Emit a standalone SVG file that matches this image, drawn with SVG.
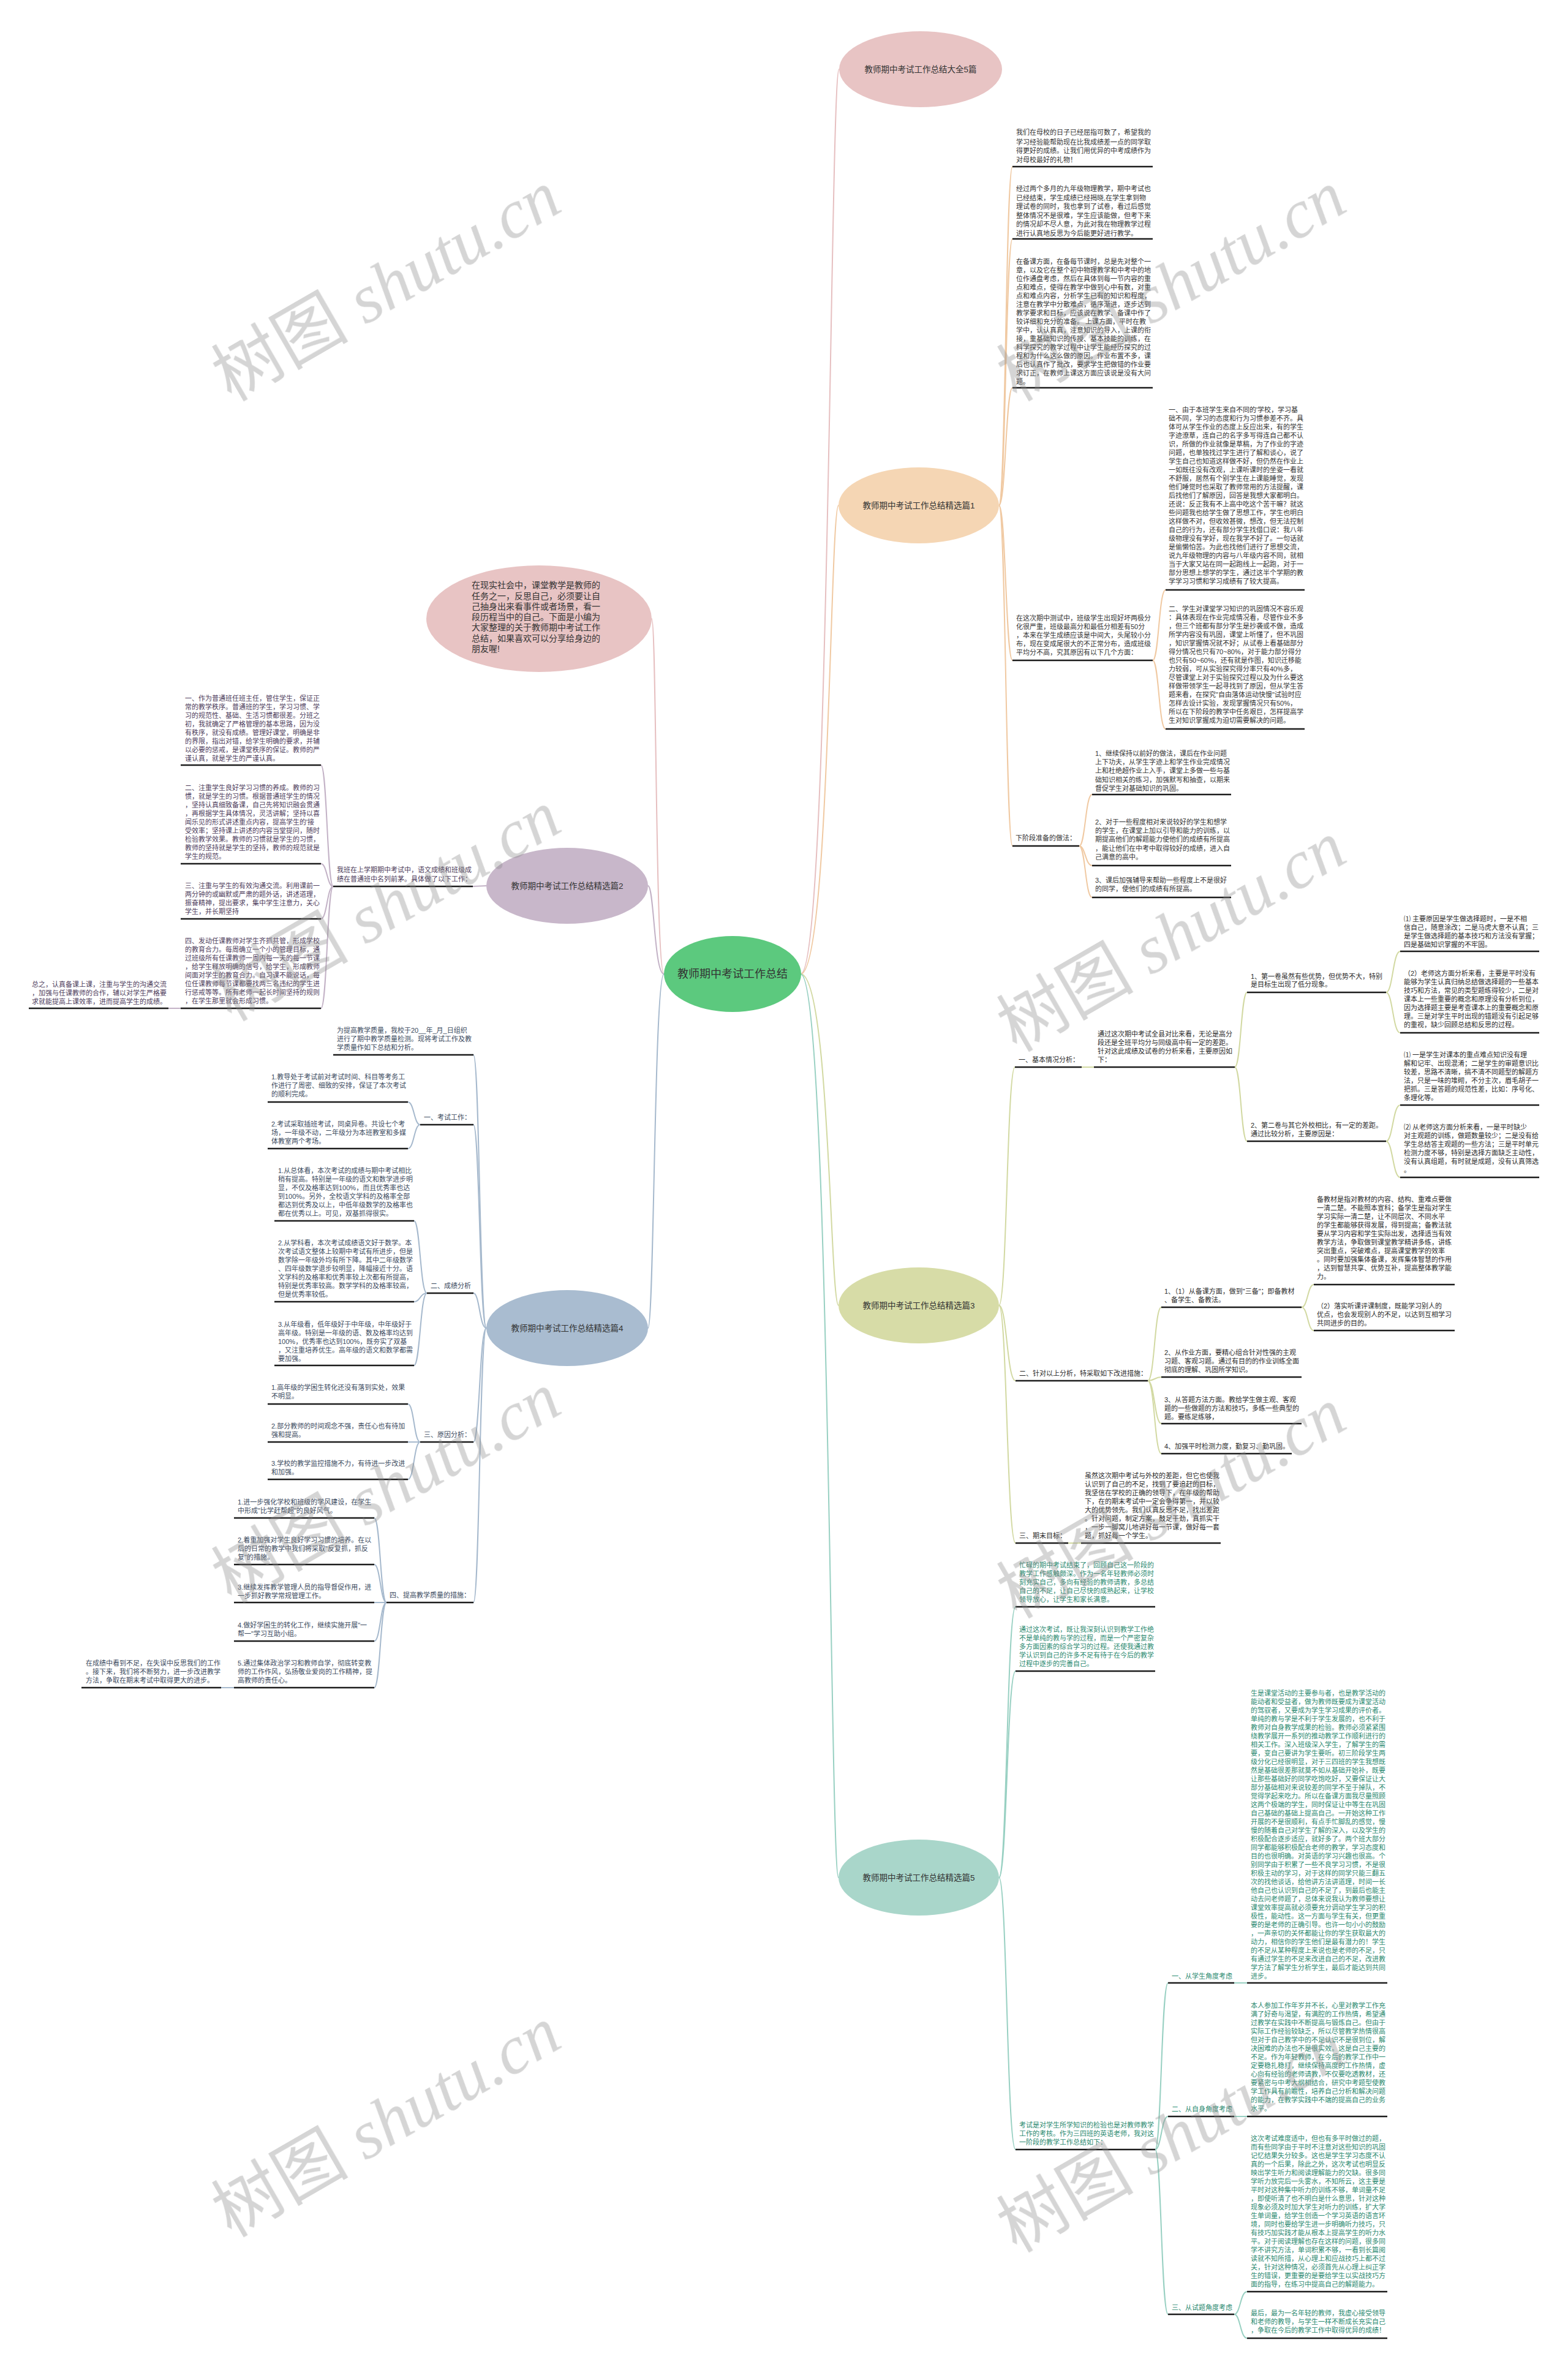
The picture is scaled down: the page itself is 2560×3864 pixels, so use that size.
<svg xmlns="http://www.w3.org/2000/svg" width="2560" height="3864" viewBox="0 0 2560 3864">
<defs>
<style>
.t{font-family:"Liberation Sans","Noto Sans CJK SC",sans-serif;font-size:11px}
.nl{font-family:"Liberation Sans","Noto Sans CJK SC",sans-serif;font-size:13.5px;fill:#333;text-anchor:middle}
.b1{fill:#333}.b2{fill:#4e3d5c}.b3{fill:#2b2b2b}.b4{fill:#3b4a5e}.b5{fill:#2b8a70}
.ul{stroke:#1c1c1c;stroke-width:2.4;fill:none}
.c{fill:none;stroke-width:2}
.cp{stroke:#e6bfc0}.c1{stroke:#f0c9a2}.c2{stroke:#c3b2c6}.c3{stroke:#d2d9a2}.c4{stroke:#a6b9cd}.c5{stroke:#98d0c2}
.wm{font-size:112px;fill:#8a8a8a;opacity:0.36}
</style>
</defs>
<rect width="2560" height="3864" fill="#ffffff"/>

<g id="connectors">
<path class="c cp" d="M1307,1590 C1355,1590 1355,113 1370,113"/>
<path class="c c1" d="M1307,1590 C1355,1590 1355,825 1369,825"/>
<path class="c c3" d="M1307,1590 C1355,1590 1355,2131 1369,2131"/>
<path class="c c5" d="M1307,1590 C1355,1590 1355,3065 1369,3065"/>
<path class="c cp" d="M1084,1590 C1070,1590 1072,1010 1064,1010"/>
<path class="c c2" d="M1084,1590 C1068,1590 1068,1446 1058,1446"/>
<path class="c c4" d="M1084,1590 C1068,1590 1068,2168 1058,2168"/>
<path class="c c1" d="M1631,825 C1642,825 1642,272 1653,272"/>
<path class="c c1" d="M1631,825 C1642,825 1642,390 1653,390"/>
<path class="c c1" d="M1631,825 C1642,825 1642,633 1653,633"/>
<path class="c c1" d="M1631,825 C1642,825 1642,1078 1653,1078"/>
<path class="c c1" d="M1631,825 C1642,825 1642,1381 1653,1381"/>
<path class="c c1" d="M1882,1078 C1892,1078 1892,963 1903,963"/>
<path class="c c1" d="M1882,1078 C1892,1078 1892,1190 1903,1190"/>
<path class="c c1" d="M1762,1381 C1772,1381 1772,1297 1783,1297"/>
<path class="c c1" d="M1762,1381 C1772,1381 1772,1413 1783,1413"/>
<path class="c c1" d="M1762,1381 C1772,1381 1772,1465 1783,1465"/>
<path class="c c3" d="M1631,2131 C1644,2131 1644,1742 1657,1742"/>
<path class="c c3" d="M1631,2131 C1644,2131 1644,2254 1658,2254"/>
<path class="c c3" d="M1631,2131 C1644,2131 1644,2519 1658,2519"/>
<path class="c c3" d="M1766,1742 L1786,1742"/>
<path class="c c3" d="M2016,1742 C2026,1742 2026,1620 2036,1620"/>
<path class="c c3" d="M2016,1742 C2026,1742 2026,1863 2036,1863"/>
<path class="c c3" d="M2263,1620 C2274,1620 2274,1553 2286,1553"/>
<path class="c c3" d="M2263,1620 C2274,1620 2274,1686 2286,1686"/>
<path class="c c3" d="M2263,1863 C2274,1863 2274,1804 2286,1804"/>
<path class="c c3" d="M2263,1863 C2274,1863 2274,1922 2286,1922"/>
<path class="c c3" d="M1874,2254 C1885,2254 1885,2134 1896,2134"/>
<path class="c c3" d="M1874,2254 C1885,2254 1885,2248 1896,2248"/>
<path class="c c3" d="M1874,2254 C1885,2254 1885,2324 1896,2324"/>
<path class="c c3" d="M1874,2254 C1885,2254 1885,2373 1896,2373"/>
<path class="c c3" d="M2125,2134 C2135,2134 2135,2097 2145,2097"/>
<path class="c c3" d="M2125,2134 C2135,2134 2135,2172 2145,2172"/>
<path class="c c3" d="M1744,2519 L1765,2519"/>
<path class="c c5" d="M1631,3065 C1644,3065 1644,2623 1658,2623"/>
<path class="c c5" d="M1631,3065 C1644,3065 1644,2728 1658,2728"/>
<path class="c c5" d="M1631,3065 C1644,3065 1644,3509 1658,3509"/>
<path class="c c5" d="M1886,3509 C1896,3509 1896,3237 1907,3237"/>
<path class="c c5" d="M1886,3509 C1896,3509 1896,3455 1907,3455"/>
<path class="c c5" d="M1886,3509 C1896,3509 1896,3778 1907,3778"/>
<path class="c c5" d="M2015,3237 L2036,3237"/>
<path class="c c5" d="M2015,3455 L2036,3455"/>
<path class="c c5" d="M2015,3778 C2025,3778 2025,3741 2036,3741"/>
<path class="c c5" d="M2015,3778 C2025,3778 2025,3817 2036,3817"/>
<path class="c c2" d="M794,1446 L772,1447"/>
<path class="c c2" d="M544,1447 C534,1447 534,1249 524,1249"/>
<path class="c c2" d="M544,1447 C534,1447 534,1410 524,1410"/>
<path class="c c2" d="M544,1447 C534,1447 534,1500 524,1500"/>
<path class="c c2" d="M544,1447 C534,1447 534,1646 524,1646"/>
<path class="c c2" d="M295,1646 L275,1646"/>
<path class="c c4" d="M794,2168 C783,2168 783,1722 773,1722"/>
<path class="c c4" d="M794,2168 C783,2168 783,1836 773,1836"/>
<path class="c c4" d="M794,2168 C783,2168 783,2111 773,2111"/>
<path class="c c4" d="M794,2168 C783,2168 783,2354 773,2354"/>
<path class="c c4" d="M794,2168 C783,2168 783,2616 773,2616"/>
<path class="c c4" d="M686,1836 C676,1836 676,1799 666,1799"/>
<path class="c c4" d="M686,1836 C676,1836 676,1875 666,1875"/>
<path class="c c4" d="M697,2111 C686,2111 686,1993 676,1993"/>
<path class="c c4" d="M697,2111 C686,2111 686,2125 676,2125"/>
<path class="c c4" d="M697,2111 C686,2111 686,2229 676,2229"/>
<path class="c c4" d="M686,2354 C676,2354 676,2292 666,2292"/>
<path class="c c4" d="M686,2354 L666,2354"/>
<path class="c c4" d="M686,2354 C676,2354 676,2415 666,2415"/>
<path class="c c4" d="M631,2616 C621,2616 621,2478 611,2478"/>
<path class="c c4" d="M631,2616 C621,2616 621,2554 611,2554"/>
<path class="c c4" d="M631,2616 L611,2616"/>
<path class="c c4" d="M631,2616 C621,2616 621,2679 611,2679"/>
<path class="c c4" d="M631,2616 C621,2616 621,2755 611,2755"/>
<path class="c c4" d="M382,2755 L361,2755"/>
</g>

<g id="node-center">
<ellipse cx="1196" cy="1590" rx="112" ry="62" fill="#5cc97e"/>
<text x="1196" y="1596" class="nl" style="font-size:18px">教师期中考试工作总结</text>
</g>
<g id="node-top">
<ellipse cx="1503" cy="113" rx="133" ry="62" fill="#e8c4c4"/>
<text x="1503" y="118" class="nl">教师期中考试工作总结大全5篇</text>
</g>
<g id="node-1">
<ellipse cx="1500" cy="825" rx="131" ry="62" fill="#f5d6b4"/>
<text x="1500" y="830" class="nl">教师期中考试工作总结精选篇1</text>
</g>
<g id="node-intro">
<ellipse cx="880" cy="1010" rx="184" ry="87" fill="#e8c4c4"/>
<text class="t" style="font-size:14px;fill:#333"><tspan x="770" y="960">在现实社会中，课堂教学是教师的</tspan><tspan x="770" y="978">任务之一，反思自己，必须要让自</tspan><tspan x="770" y="995">己抽身出来看事件或者场景，看一</tspan><tspan x="770" y="1012">段历程当中的自己。下面是小编为</tspan><tspan x="770" y="1029">大家整理的关于教师期中考试工作</tspan><tspan x="770" y="1047">总结，如果喜欢可以分享给身边的</tspan><tspan x="770" y="1064">朋友喔!</tspan></text>
</g>
<g id="node-2">
<ellipse cx="926" cy="1446" rx="132" ry="62" fill="#c8b7ca"/>
<text x="926" y="1451" class="nl">教师期中考试工作总结精选篇2</text>
</g>
<g id="node-4">
<ellipse cx="926" cy="2168" rx="132" ry="62" fill="#a9bcd0"/>
<text x="926" y="2173" class="nl">教师期中考试工作总结精选篇4</text>
</g>
<g id="node-3">
<ellipse cx="1500" cy="2131" rx="131" ry="62" fill="#d7dca7"/>
<text x="1500" y="2136" class="nl">教师期中考试工作总结精选篇3</text>
</g>
<g id="node-5">
<ellipse cx="1500" cy="3065" rx="131" ry="62" fill="#a9d6ca"/>
<text x="1500" y="3070" class="nl">教师期中考试工作总结精选篇5</text>
</g>

<g id="b1-a">
<text class="t b1"><tspan x="1659" y="220">我们在母校的日子已经屈指可数了，希望我的</tspan><tspan x="1659" y="236">学习经验能帮助现在比我成绩差一点的同学取</tspan><tspan x="1659" y="250">得更好的成绩。让我们用优异的中考成绩作为</tspan><tspan x="1659" y="265">对母校最好的礼物！</tspan></text>
<line class="ul" x1="1653" y1="272" x2="1882" y2="272"/>
</g>
<g id="b1-b">
<text class="t b1"><tspan x="1659" y="312">经过两个多月的九年级物理教学，期中考试也</tspan><tspan x="1659" y="327">已经结束，学生成绩已经揭晓,在学生拿到物</tspan><tspan x="1659" y="341">理试卷的同时，我也拿到了试卷，看过后感觉</tspan><tspan x="1659" y="356">整体情况不是很难，学生应该能做，但考下来</tspan><tspan x="1659" y="370">的情况却不尽人意，为此对我在物理教学过程</tspan><tspan x="1659" y="385">进行认真地反思为今后能更好进行教学。</tspan></text>
<line class="ul" x1="1653" y1="390" x2="1882" y2="390"/>
</g>
<g id="b1-c">
<text class="t b1"><tspan x="1659" y="431">在备课方面，在备每节课时，总是先对整个一</tspan><tspan x="1659" y="445">章，以及它在整个初中物理教学和中考中的地</tspan><tspan x="1659" y="459">位作通盘考虑，然后在具体到每一节内容的重</tspan><tspan x="1659" y="473">点和难点，使得在教学中做到心中有数，对重</tspan><tspan x="1659" y="487">点和难点内容，分析学生已有的知识和程度，</tspan><tspan x="1659" y="501">注意在教学中分散难点，循序渐进，逐步达到</tspan><tspan x="1659" y="515">教学要求和目标，应该说在教学、备课中作了</tspan><tspan x="1659" y="529">较详细和充分的准备。 上课方面，平时在教</tspan><tspan x="1659" y="543">学中，认认真真，注意知识的导入，上课的衔</tspan><tspan x="1659" y="557">接，重基础知识的传授、基本技能的训练，在</tspan><tspan x="1659" y="571">科学探究的教学过程中让学生能经历探究的过</tspan><tspan x="1659" y="585">程和为什么这么做的原因。作业布置不多，课</tspan><tspan x="1659" y="599">后也认真作了批改，要求学生把做错的作业要</tspan><tspan x="1659" y="613">求订正，在教师上课这方面应该说是没有大问</tspan><tspan x="1659" y="627">题。</tspan></text>
<line class="ul" x1="1653" y1="633" x2="1882" y2="633"/>
</g>
<g id="b1-d">
<text class="t b1"><tspan x="1659" y="1013">在这次期中测试中，班级学生出现好坏两极分</tspan><tspan x="1659" y="1027">化很严重，班级最高分和最低分相差有50分</tspan><tspan x="1659" y="1041">，本来在学生成绩应该是中间大，头尾较小分</tspan><tspan x="1659" y="1055">布，现在变成尾很大的不正常分布，造成班级</tspan><tspan x="1659" y="1069">平均分不高，究其原因有以下几个方面：</tspan></text>
<line class="ul" x1="1653" y1="1078" x2="1882" y2="1078"/>
</g>
<g id="b1-e">
<text class="t b1"><tspan x="1908" y="673">一、由于本班学生来自不同的'学校，学习基</tspan><tspan x="1908" y="687">础不同，学习的态度和行为习惯参差不齐。具</tspan><tspan x="1908" y="701">体可从学生作业的态度上反应出来，有的学生</tspan><tspan x="1908" y="715">字迹潦草，连自己的名字多写得连自己都不认</tspan><tspan x="1908" y="729">识，所做的作业就像是草稿，为了作业的字迹</tspan><tspan x="1908" y="743">问题，也单独找过学生进行了解和谈心，说了</tspan><tspan x="1908" y="757">学生自己也知道这样做不好，但仍然在作业上</tspan><tspan x="1908" y="771">一如既往没有改观，上课听课时的坐姿一看就</tspan><tspan x="1908" y="785">不舒服，居然有个别学生在上课能睡觉，发现</tspan><tspan x="1908" y="799">他们睡觉时也采取了教师常用的方法提醒，课</tspan><tspan x="1908" y="813">后找他们了解原因，回答是我想大家都明白。</tspan><tspan x="1908" y="827">还说：反正我有不上高中吃这个苦干嘛？就这</tspan><tspan x="1908" y="841">些问题我也给学生做了思想工作，学生也明白</tspan><tspan x="1908" y="855">这样做不对，但收效甚微，想改，但无法控制</tspan><tspan x="1908" y="869">自己的行为，还有部分学生找借口说：我八年</tspan><tspan x="1908" y="883">级物理没有学好，现在我学不好了。一句话就</tspan><tspan x="1908" y="897">是偷懒怕苦。为此也找他们进行了思想交流，</tspan><tspan x="1908" y="911">说九年级物理的内容与八年级内容不同，就相</tspan><tspan x="1908" y="925">当于大家又站在同一起跑线上一起跑，对于一</tspan><tspan x="1908" y="939">部分思想上想学的学生，通过这半个学期的教</tspan><tspan x="1908" y="953">学学习习惯和学习成绩有了较大提高。</tspan></text>
<line class="ul" x1="1903" y1="963" x2="2130" y2="963"/>
</g>
<g id="b1-f">
<text class="t b1"><tspan x="1908" y="998">二、学生对课堂学习知识的巩固情况不容乐观</tspan><tspan x="1908" y="1012">：具体表现在作业完成情况看，尽管作业不多</tspan><tspan x="1908" y="1026">，但三个班都有部分学生是抄袭或不做，造成</tspan><tspan x="1908" y="1040">所学内容没有巩固，课堂上听懂了，但不巩固</tspan><tspan x="1908" y="1054">，知识掌握情况就不好；从试卷上看基础部分</tspan><tspan x="1908" y="1068">得分情况也只有70~80%，对于能力部分得分</tspan><tspan x="1908" y="1082">也只有50~60%，还有就是作图，知识迁移能</tspan><tspan x="1908" y="1096">力较弱，可从实验探究得分率只有40%多，</tspan><tspan x="1908" y="1110">尽管课堂上对于实验探究过程以及为什么要这</tspan><tspan x="1908" y="1124">样做带领学生一起寻找到了原因，但从学生答</tspan><tspan x="1908" y="1138">题来看，在探究"自由落体运动快慢"试验时应</tspan><tspan x="1908" y="1152">怎样去设计实验，发现掌握情况只有50%，</tspan><tspan x="1908" y="1166">所以在下阶段的教学中任务艰巨，怎样提高学</tspan><tspan x="1908" y="1180">生对知识掌握成为迫切需要解决的问题。</tspan></text>
<line class="ul" x1="1903" y1="1190" x2="2130" y2="1190"/>
</g>
<g id="b1-g">
<text class="t b1" x="1658" y="1372">下阶段准备的做法：</text>
<line class="ul" x1="1653" y1="1381" x2="1762" y2="1381"/>
</g>
<g id="b1-g1">
<text class="t b1"><tspan x="1788" y="1234">1、继续保持以前好的做法，课后在作业问题</tspan><tspan x="1788" y="1248">上下功夫，从学生字迹上和学生作业完成情况</tspan><tspan x="1788" y="1262">上和杜绝超作业上入手，课堂上多做一些与基</tspan><tspan x="1788" y="1277">础知识相关的练习，加强默写和抽查，以期来</tspan><tspan x="1788" y="1291">督促学生对基础知识的巩固。</tspan></text>
<line class="ul" x1="1783" y1="1297" x2="2010" y2="1297"/>
</g>
<g id="b1-g2">
<text class="t b1"><tspan x="1788" y="1346">2、对于一些程度相对来说较好的学生和想学</tspan><tspan x="1788" y="1360">的学生，在课堂上加以引导和能力的训练，以</tspan><tspan x="1788" y="1374">期提高他们的解题能力使他们的成绩有所提高</tspan><tspan x="1788" y="1389">，能让他们在中考中取得较好的成绩，进入自</tspan><tspan x="1788" y="1403">己满意的高中。</tspan></text>
<line class="ul" x1="1783" y1="1413" x2="2010" y2="1413"/>
</g>
<g id="b1-g3">
<text class="t b1"><tspan x="1788" y="1441">3、课后加强辅导来帮助一些程度上不是很好</tspan><tspan x="1788" y="1455">的同学，使他们的成绩有所提高。</tspan></text>
<line class="ul" x1="1783" y1="1465" x2="2010" y2="1465"/>
</g>

<g id="b3-1">
<text class="t b3" x="1663" y="1734">一、基本情况分析：</text>
<line class="ul" x1="1657" y1="1742" x2="1766" y2="1742"/>
</g>
<g id="b3-h">
<text class="t b3"><tspan x="1792" y="1692">通过这次期中考试全县对比来看，无论是高分</tspan><tspan x="1792" y="1706">段还是全班平均分与同级高中有一定的差距。</tspan><tspan x="1792" y="1720">针对这此成绩及试卷的分析来看，主要原因如</tspan><tspan x="1792" y="1734">下：</tspan></text>
<line class="ul" x1="1786" y1="1742" x2="2016" y2="1742"/>
</g>
<g id="b3-i1">
<text class="t b3"><tspan x="2042" y="1598">1、第一卷虽然有些优势，但优势不大，特别</tspan><tspan x="2042" y="1611">是目标生出现了低分现象。</tspan></text>
<line class="ul" x1="2036" y1="1620" x2="2263" y2="1620"/>
</g>
<g id="b3-i2">
<text class="t b3"><tspan x="2042" y="1841">2、第二卷与其它外校相比，有一定的差距。</tspan><tspan x="2042" y="1855">通过比较分析，主要原因是：</tspan></text>
<line class="ul" x1="2036" y1="1863" x2="2263" y2="1863"/>
</g>
<g id="b3-j1">
<text class="t b3"><tspan x="2292" y="1504">⑴ 主要原因是学生做选择题时，一是不相</tspan><tspan x="2292" y="1518">信自己，随意涂改；二是马虎大意不认真；三</tspan><tspan x="2292" y="1532">是学生做选择题的基本技巧和方法没有掌握；</tspan><tspan x="2292" y="1546">四是基础知识掌握的不牢固。</tspan></text>
<line class="ul" x1="2286" y1="1553" x2="2513" y2="1553"/>
</g>
<g id="b3-j2">
<text class="t b3"><tspan x="2292" y="1593">（2）老师这方面分析来看，主要是平时没有</tspan><tspan x="2292" y="1607">能够为学生认真归纳总结做选择题的一些基本</tspan><tspan x="2292" y="1621">技巧和方法，常见的类型题练得较少，二是对</tspan><tspan x="2292" y="1635">课本上一些重要的概念和原理没有分析到位，</tspan><tspan x="2292" y="1649">因为选择题主要是考查课本上的重要概念和原</tspan><tspan x="2292" y="1663">理。三是对学生平时出现的错题没有引起足够</tspan><tspan x="2292" y="1677">的重视，缺少回顾总结和反思的过程。</tspan></text>
<line class="ul" x1="2286" y1="1686" x2="2513" y2="1686"/>
</g>
<g id="b3-j3">
<text class="t b3"><tspan x="2292" y="1726">⑴ 一是学生对课本的重点难点知识没有理</tspan><tspan x="2292" y="1740">解和记牢、出现混淆；二是学生的审题意识比</tspan><tspan x="2292" y="1754">较差，思路不清晰，搞不清不同题型的解题方</tspan><tspan x="2292" y="1768">法，只是一味的堆砌，不分主次，眉毛胡子一</tspan><tspan x="2292" y="1782">把抓。三是答题的规范性差，比如：序号化、</tspan><tspan x="2292" y="1796">条理化等。</tspan></text>
<line class="ul" x1="2286" y1="1804" x2="2513" y2="1804"/>
</g>
<g id="b3-j4">
<text class="t b3"><tspan x="2292" y="1844">⑵ 从老师这方面分析来看，一是平时缺少</tspan><tspan x="2292" y="1858">对主观题的训练，做题数量较少；二是没有给</tspan><tspan x="2292" y="1872">学生总结答主观题的一些方法；三是平时单元</tspan><tspan x="2292" y="1886">检测力度不够，特别是选择方面缺乏主动性，</tspan><tspan x="2292" y="1900">没有认真组题，有时就是成题，没有认真筛选</tspan><tspan x="2292" y="1914">。</tspan></text>
<line class="ul" x1="2286" y1="1922" x2="2513" y2="1922"/>
</g>
<g id="b3-2">
<text class="t b3" x="1664" y="2246">二、针对以上分析，特采取如下改进措施：</text>
<line class="ul" x1="1658" y1="2254" x2="1874" y2="2254"/>
</g>
<g id="b3-k1">
<text class="t b3"><tspan x="1901" y="2112">1、（1）从备课方面，做到"三备"；即备教材</tspan><tspan x="1901" y="2126">、备学生、备教法。</tspan></text>
<line class="ul" x1="1896" y1="2134" x2="2125" y2="2134"/>
</g>
<g id="b3-k2">
<text class="t b3"><tspan x="1901" y="2212">2、从作业方面，要精心组合针对性强的主观</tspan><tspan x="1901" y="2226">习题、客观习题。通过有目的的作业训练全面</tspan><tspan x="1901" y="2240">彻底的理解、巩固所学知识。</tspan></text>
<line class="ul" x1="1896" y1="2248" x2="2125" y2="2248"/>
</g>
<g id="b3-k3">
<text class="t b3"><tspan x="1901" y="2289">3、从答题方法方面。教给学生做主观、客观</tspan><tspan x="1901" y="2303">题的一些做题的方法和技巧，多练一些典型的</tspan><tspan x="1901" y="2317">题。要练足练够，</tspan></text>
<line class="ul" x1="1896" y1="2324" x2="2125" y2="2324"/>
</g>
<g id="b3-k4">
<text class="t b3" x="1901" y="2365">4、加强平时检测力度，勤复习、勤巩固。</text>
<line class="ul" x1="1896" y1="2373" x2="2109" y2="2373"/>
</g>
<g id="b3-l1">
<text class="t b3"><tspan x="2150" y="1962">备教材是指对教材的内容、结构、重难点要做</tspan><tspan x="2150" y="1976">一清二楚。不能照本宣科；备学生是指对学生</tspan><tspan x="2150" y="1990">学习实际一清二楚，让不同层次、不同水平</tspan><tspan x="2150" y="2004">的学生都能够获得发展，得到提高；备教法就</tspan><tspan x="2150" y="2018">要从学习内容和学生实际出发，选择适当有效</tspan><tspan x="2150" y="2032">教学方法，争取做到课堂教学精讲多练，讲练</tspan><tspan x="2150" y="2046">突出重点，突破难点，提高课堂教学的效率</tspan><tspan x="2150" y="2060">。同时要加强集体备课，发挥集体智慧的作用</tspan><tspan x="2150" y="2074">，达到智慧共享、优势互补，提高整体教学能</tspan><tspan x="2150" y="2088">力。</tspan></text>
<line class="ul" x1="2145" y1="2097" x2="2375" y2="2097"/>
</g>
<g id="b3-l2">
<text class="t b3"><tspan x="2150" y="2136">（2）落实听课评课制度，既能学习别人的</tspan><tspan x="2150" y="2150">优点，也会发现别人的不足，以达到互相学习</tspan><tspan x="2150" y="2164">共同进步的目的。</tspan></text>
<line class="ul" x1="2145" y1="2172" x2="2375" y2="2172"/>
</g>
<g id="b3-3">
<text class="t b3" x="1664" y="2511">三、期末目标：</text>
<line class="ul" x1="1658" y1="2519" x2="1744" y2="2519"/>
</g>
<g id="b3-m">
<text class="t b3"><tspan x="1771" y="2413">虽然这次期中考试与外校的差距，但它也使我</tspan><tspan x="1771" y="2427">认识到了自己的不足，找到了要追赶的目标，</tspan><tspan x="1771" y="2441">我坚信在学校的正确的领导下，在年级的帮助</tspan><tspan x="1771" y="2455">下，在的期末考试中一定会争得第一，并以较</tspan><tspan x="1771" y="2469">大的优势领先。我们认真反思不足，找出差距</tspan><tspan x="1771" y="2483">。针对问题，制定方案，鼓足干劲，真抓实干</tspan><tspan x="1771" y="2497">，一步一脚窝儿地讲好每一节课，做好每一套</tspan><tspan x="1771" y="2511">题，抓好每一个学生。</tspan></text>
<line class="ul" x1="1765" y1="2519" x2="1993" y2="2519"/>
</g>

<g id="b5-n1">
<text class="t b5"><tspan x="1664" y="2559">忙碌的期中考试结束了，回顾自己这一阶段的</tspan><tspan x="1664" y="2573">教学工作感触颇深。作为一名年轻教师必须时</tspan><tspan x="1664" y="2587">刻充实自己，多向有经验的教师请教，多总结</tspan><tspan x="1664" y="2601">自己的不足，让自己尽快的成熟起来，让学校</tspan><tspan x="1664" y="2615">领导放心，让学生和家长满意。</tspan></text>
<line class="ul" x1="1658" y1="2623" x2="1886" y2="2623"/>
</g>
<g id="b5-n2">
<text class="t b5"><tspan x="1664" y="2664">通过这次考试，既让我深刻认识到教学工作绝</tspan><tspan x="1664" y="2678">不是单纯的教与学的过程，而是一个严密复杂</tspan><tspan x="1664" y="2692">多方面因素的综合学习的过程。还使我通过教</tspan><tspan x="1664" y="2706">学认识到自己的许多不足有待于在今后的教学</tspan><tspan x="1664" y="2720">过程中逐步的完善自己。</tspan></text>
<line class="ul" x1="1658" y1="2728" x2="1886" y2="2728"/>
</g>
<g id="b5-n3">
<text class="t b5"><tspan x="1664" y="3473">考试是对学生所学知识的检验也是对教师教学</tspan><tspan x="1664" y="3487">工作的考核。作为三四班的英语老师，我对这</tspan><tspan x="1664" y="3501">一阶段的教学工作总结如下：</tspan></text>
<line class="ul" x1="1658" y1="3509" x2="1886" y2="3509"/>
</g>
<g id="b5-o1">
<text class="t b5" x="1913" y="3230">一、从学生角度考虑</text>
<line class="ul" x1="1907" y1="3237" x2="2015" y2="3237"/>
</g>
<g id="b5-o2">
<text class="t b5" x="1913" y="3447">二、从自身角度考虑</text>
<line class="ul" x1="1907" y1="3455" x2="2015" y2="3455"/>
</g>
<g id="b5-o3">
<text class="t b5" x="1913" y="3771">三、从试题角度考虑</text>
<line class="ul" x1="1907" y1="3778" x2="2015" y2="3778"/>
</g>
<g id="b5-p1">
<text class="t b5"><tspan x="2042" y="2768">生是课堂活动的主要参与者，也是教学活动的</tspan><tspan x="2042" y="2782">能动者和受益者，做为教师既要成为课堂活动</tspan><tspan x="2042" y="2796">的驾驭者，又要成为学生学习成果的评价者。</tspan><tspan x="2042" y="2810">单纯的教与学是不利于学生发展的，也不利于</tspan><tspan x="2042" y="2824">教师对自身教学成果的检验。教师必须紧紧围</tspan><tspan x="2042" y="2838">绕教学展开一系列的推动教学工作顺利进行的</tspan><tspan x="2042" y="2852">相关工作。深入班级深入学生，了解学生的需</tspan><tspan x="2042" y="2866">要，变自己要讲为学生要听。初三阶段学生两</tspan><tspan x="2042" y="2880">级分化已经很明显，对于三四班的学生我想既</tspan><tspan x="2042" y="2894">然是基础很差那就莫不如从基础开始补，既要</tspan><tspan x="2042" y="2908">让那些基础好的同学吃饱吃好，又要保证让大</tspan><tspan x="2042" y="2922">部分基础相对来说较差的同学不至于掉队，不</tspan><tspan x="2042" y="2936">觉得学起来吃力。所以在备课方面我尽量照顾</tspan><tspan x="2042" y="2950">这两个极端的学生，同时保证让中等生在巩固</tspan><tspan x="2042" y="2964">自己基础的基础上提高自己。一开始这种工作</tspan><tspan x="2042" y="2978">开展的不是很顺利，有点手忙脚乱的感觉，慢</tspan><tspan x="2042" y="2992">慢的随着自己对学生了解的深入，以及学生的</tspan><tspan x="2042" y="3006">积极配合逐步适应，就好多了。两个班大部分</tspan><tspan x="2042" y="3020">同学都能够积极配合老师的教学，学习态度和</tspan><tspan x="2042" y="3034">目的也很明确。对英语的学习兴趣也很高。个</tspan><tspan x="2042" y="3048">别同学由于积累了一些不良学习习惯，不是很</tspan><tspan x="2042" y="3062">积极主动的学习，对于这样的同学只能三翻五</tspan><tspan x="2042" y="3076">次的找他谈话，给他讲方法讲道理，时间一长</tspan><tspan x="2042" y="3090">他自己也认识到自己的不足了，到最后也能主</tspan><tspan x="2042" y="3104">动去问老师题了，总体来说我认为教师要想让</tspan><tspan x="2042" y="3118">课堂效率提高就必须要充分调动学生学习的积</tspan><tspan x="2042" y="3132">极性，能动性。这一方面与学生有关，但更重</tspan><tspan x="2042" y="3146">要的是老师的正确引导。也许一句小小的鼓励</tspan><tspan x="2042" y="3160">，一声亲切的关怀都能让你的学生获取最大的</tspan><tspan x="2042" y="3174">动力，相信你的学生他们是最有潜力的！学生</tspan><tspan x="2042" y="3188">的不足从某种程度上来说也是老师的不足，只</tspan><tspan x="2042" y="3202">有通过学生的不足来改进自己的不足，改进教</tspan><tspan x="2042" y="3216">学方法了解学生分析学生，最后才能达到共同</tspan><tspan x="2042" y="3230">进步。</tspan></text>
<line class="ul" x1="2036" y1="3237" x2="2265" y2="3237"/>
</g>
<g id="b5-p2">
<text class="t b5"><tspan x="2042" y="3278">本人参加工作年岁并不长，心里对教学工作充</tspan><tspan x="2042" y="3292">满了好奇与渴望，有满腔的工作热情，希望通</tspan><tspan x="2042" y="3306">过教学在实践中不断提高与锻炼自己。但由于</tspan><tspan x="2042" y="3320">实际工作经验较缺乏，所以尽管教学热情很高</tspan><tspan x="2042" y="3334">但对于自己教学中的不足认识不是很到位，解</tspan><tspan x="2042" y="3348">决困难的办法也不是很实效。这是自己主要的</tspan><tspan x="2042" y="3362">不足。作为年轻教师，在今后的教学工作中一</tspan><tspan x="2042" y="3376">定要稳扎稳打，继续保持高度的工作热情，虚</tspan><tspan x="2042" y="3390">心向有经验的老师请教，不仅要吃透教材，还</tspan><tspan x="2042" y="3404">要紧密与中考大纲相结合，研究中考题型使教</tspan><tspan x="2042" y="3418">学工作具有前瞻性，培养自己分析和解决问题</tspan><tspan x="2042" y="3432">的能力，在教学实践中不端的提高自己的业务</tspan><tspan x="2042" y="3446">水平。</tspan></text>
<line class="ul" x1="2036" y1="3455" x2="2265" y2="3455"/>
</g>
<g id="b5-p3">
<text class="t b5"><tspan x="2042" y="3495">这次考试难度适中，但也有多平时做过的题，</tspan><tspan x="2042" y="3509">而有些同学由于平时不注意对这些知识的巩固</tspan><tspan x="2042" y="3523">记忆结果失分较多。这也是学生学习态度不认</tspan><tspan x="2042" y="3537">真的一个后果，除此之外，这次考试也明显反</tspan><tspan x="2042" y="3551">映出学生听力和阅读理解能力的欠缺。很多同</tspan><tspan x="2042" y="3565">学听力放完后一头雾水，不知所云，这主要是</tspan><tspan x="2042" y="3579">平时对这种集中听力的训练不够，单词量不足</tspan><tspan x="2042" y="3593">，即使听清了也不明白是什么意思，针对这种</tspan><tspan x="2042" y="3607">现象必须及时加大学生对听力的训练，扩大学</tspan><tspan x="2042" y="3621">生单词量，给学生创造一个学习英语的语言环</tspan><tspan x="2042" y="3635">境，同时也要给学生进一步明确听力技巧，只</tspan><tspan x="2042" y="3649">有技巧加实践才能从根本上提高学生的听力水</tspan><tspan x="2042" y="3663">平。对于阅读理解也存在这样的问题，很多同</tspan><tspan x="2042" y="3677">学不讲究方法，单词积累不够，一看到长篇阅</tspan><tspan x="2042" y="3691">读就不知所措，从心理上和应战技巧上都不过</tspan><tspan x="2042" y="3705">关，针对这种情况，必须首先从心理上纠正学</tspan><tspan x="2042" y="3719">生的错误，更重要的是要给学生以实战技巧方</tspan><tspan x="2042" y="3733">面的指导，在练习中提高自己的解题能力。</tspan></text>
<line class="ul" x1="2036" y1="3741" x2="2265" y2="3741"/>
</g>
<g id="b5-p4">
<text class="t b5"><tspan x="2042" y="3780">最后，最为一名年轻的教师，我虚心接受领导</tspan><tspan x="2042" y="3794">和老师的教导，与学生一样不断成长充实自己</tspan><tspan x="2042" y="3808">，争取在今后的教学工作中取得优异的成绩！</tspan></text>
<line class="ul" x1="2036" y1="3817" x2="2265" y2="3817"/>
</g>

<g id="b2-q">
<text class="t b2"><tspan x="550" y="1424">我班在上学期期中考试中，语文成绩和班级成</tspan><tspan x="550" y="1439">绩在普通班中名列前茅。具体做了以下工作：</tspan></text>
<line class="ul" x1="544" y1="1447" x2="772" y2="1447"/>
</g>
<g id="b2-r1">
<text class="t b2"><tspan x="302" y="1144">一、作为普通班任班主任，管住学生，保证正</tspan><tspan x="302" y="1158">常的教学秩序。普通班的学生，学习习惯、学</tspan><tspan x="302" y="1172">习的规范性、基础、生活习惯都很差。分班之</tspan><tspan x="302" y="1186">初，我就确定了严格管理的基本思路，因为没</tspan><tspan x="302" y="1200">有秩序，就没有成绩。管理好课堂，明确是非</tspan><tspan x="302" y="1214">的界限，指出对错，给学生明确的要求，并辅</tspan><tspan x="302" y="1228">以必要的惩戒，是课堂秩序的保证。教师的严</tspan><tspan x="302" y="1242">谨认真，就是学生的严谨认真。</tspan></text>
<line class="ul" x1="295" y1="1249" x2="524" y2="1249"/>
</g>
<g id="b2-r2">
<text class="t b2"><tspan x="302" y="1290">二、注重学生良好学习习惯的养成。教师的习</tspan><tspan x="302" y="1304">惯，就是学生的习惯。根据普通班学生的情况</tspan><tspan x="302" y="1318">，坚持认真细致备课，自己先将知识融会贯通</tspan><tspan x="302" y="1332">，再根据学生具体情况，灵活讲解；坚持以喜</tspan><tspan x="302" y="1346">闻乐见的形式讲述重点内容，提高学生的'接</tspan><tspan x="302" y="1360">受效率；坚持课上讲述的内容当堂提问，随时</tspan><tspan x="302" y="1374">检验教学效果。教师的习惯就是学生的习惯，</tspan><tspan x="302" y="1388">教师的坚持就是学生的坚持，教师的规范就是</tspan><tspan x="302" y="1402">学生的规范。</tspan></text>
<line class="ul" x1="295" y1="1410" x2="524" y2="1410"/>
</g>
<g id="b2-r3">
<text class="t b2"><tspan x="302" y="1450">三、注重与学生的有效沟通交流。利用课前一</tspan><tspan x="302" y="1464">两分钟的或幽默或严肃的题外话，讲述道理，</tspan><tspan x="302" y="1478">振奋精神，提出要求，集中学生注意力，关心</tspan><tspan x="302" y="1492">学生，并长期坚持</tspan></text>
<line class="ul" x1="295" y1="1500" x2="524" y2="1500"/>
</g>
<g id="b2-r4">
<text class="t b2"><tspan x="302" y="1540">四、发动任课教师对学生齐抓共管，形成学校</tspan><tspan x="302" y="1554">的教育合力。每周确立一个小的管理目标，通</tspan><tspan x="302" y="1568">过班级所有任课教师一周内每一天的每一节课</tspan><tspan x="302" y="1582">，给学生释放明确的信号，给学生，形成教师</tspan><tspan x="302" y="1596">间面对学生的教育合力。自习课不能说话，每</tspan><tspan x="302" y="1610">位任课教师每节课都要找两三名违纪的学生进</tspan><tspan x="302" y="1624">行惩戒等等。所有老师一起长时间坚持的规则</tspan><tspan x="302" y="1638">，在学生那里就会形成习惯。</tspan></text>
<line class="ul" x1="295" y1="1646" x2="524" y2="1646"/>
</g>
<g id="b2-s">
<text class="t b2"><tspan x="52" y="1611">总之，认真备课上课，注重与学生的沟通交流</tspan><tspan x="52" y="1625">，加强与任课教师的合作，辅以对学生严格要</tspan><tspan x="52" y="1639">求就能提高上课效率，进而提高学生的成绩。</tspan></text>
<line class="ul" x1="47" y1="1646" x2="275" y2="1646"/>
</g>

<g id="b4-t0">
<text class="t b4"><tspan x="550" y="1686">为提高教学质量，我校于20__年_月_日组织</tspan><tspan x="550" y="1700">进行了期中教学质量检测。现将考试工作及教</tspan><tspan x="550" y="1714">学质量作如下总结和分析。</tspan></text>
<line class="ul" x1="544" y1="1722" x2="773" y2="1722"/>
</g>
<g id="b4-t1">
<text class="t b4" x="692" y="1828">一、考试工作：</text>
<line class="ul" x1="686" y1="1836" x2="773" y2="1836"/>
</g>
<g id="b4-u1">
<text class="t b4"><tspan x="443" y="1762">1.教导处于考试前对考试时间、科目等考务工</tspan><tspan x="443" y="1776">作进行了周密、细致的安排，保证了本次考试</tspan><tspan x="443" y="1790">的顺利完成。</tspan></text>
<line class="ul" x1="437" y1="1799" x2="666" y2="1799"/>
</g>
<g id="b4-u2">
<text class="t b4"><tspan x="443" y="1839">2.考试采取插班考试，同桌异卷。共设七个考</tspan><tspan x="443" y="1853">场，一年级不动，二年级分为本班教室和多媒</tspan><tspan x="443" y="1867">体教室两个考场。</tspan></text>
<line class="ul" x1="437" y1="1875" x2="666" y2="1875"/>
</g>
<g id="b4-t2">
<text class="t b4" x="703" y="2103">二、成绩分析</text>
<line class="ul" x1="697" y1="2111" x2="773" y2="2111"/>
</g>
<g id="b4-v1">
<text class="t b4"><tspan x="454" y="1915">1.从总体看，本次考试的成绩与期中考试相比</tspan><tspan x="454" y="1929">稍有提高。特别是一年级的语文和数学进步明</tspan><tspan x="454" y="1943">显，不仅及格率达到100%，而且优秀率也达</tspan><tspan x="454" y="1957">到100%。另外，全校语文学科的及格率全部</tspan><tspan x="454" y="1971">都达到优秀及以上，中低年级数学的及格率也</tspan><tspan x="454" y="1985">都在优秀以上。可见，双基抓得很实。</tspan></text>
<line class="ul" x1="448" y1="1993" x2="676" y2="1993"/>
</g>
<g id="b4-v2">
<text class="t b4"><tspan x="454" y="2033">2.从学科看，本次考试成绩语文好于数学。本</tspan><tspan x="454" y="2047">次考试语文整体上较期中考试有所进步，但是</tspan><tspan x="454" y="2061">数学除一年级外均有所下降。其中二年级数学</tspan><tspan x="454" y="2075">、四年级数学退步较明显，降幅接近十分。语</tspan><tspan x="454" y="2089">文学科的及格率和优秀率较上次都有所提高，</tspan><tspan x="454" y="2103">特别是优秀率较高。数学学科的及格率较高，</tspan><tspan x="454" y="2117">但是优秀率较低。</tspan></text>
<line class="ul" x1="448" y1="2125" x2="676" y2="2125"/>
</g>
<g id="b4-v3">
<text class="t b4"><tspan x="454" y="2166">3.从年级看，低年级好于中年级，中年级好于</tspan><tspan x="454" y="2180">高年级。特别是一年级的语、数及格率均达到</tspan><tspan x="454" y="2194">100%，优秀率也达到100%，既夯实了双基</tspan><tspan x="454" y="2208">，又注重培养优生。高年级的语文和数学都需</tspan><tspan x="454" y="2222">要加强。</tspan></text>
<line class="ul" x1="448" y1="2229" x2="676" y2="2229"/>
</g>
<g id="b4-t3">
<text class="t b4" x="692" y="2346">三、原因分析：</text>
<line class="ul" x1="686" y1="2354" x2="773" y2="2354"/>
</g>
<g id="b4-w1">
<text class="t b4"><tspan x="443" y="2269">1.高年级的学困生转化还没有落到实处，效果</tspan><tspan x="443" y="2283">不明显。</tspan></text>
<line class="ul" x1="437" y1="2292" x2="666" y2="2292"/>
</g>
<g id="b4-w2">
<text class="t b4"><tspan x="443" y="2332">2.部分教师的时间观念不强，责任心也有待加</tspan><tspan x="443" y="2346">强和提高。</tspan></text>
<line class="ul" x1="437" y1="2354" x2="666" y2="2354"/>
</g>
<g id="b4-w3">
<text class="t b4"><tspan x="443" y="2393">3.学校的教学监控措施不力，有待进一步改进</tspan><tspan x="443" y="2407">和加强。</tspan></text>
<line class="ul" x1="437" y1="2415" x2="666" y2="2415"/>
</g>
<g id="b4-t4">
<text class="t b4" x="636" y="2608">四、提高教学质量的措施：</text>
<line class="ul" x1="631" y1="2616" x2="773" y2="2616"/>
</g>
<g id="b4-x1">
<text class="t b4"><tspan x="388" y="2456">1.进一步强化学校和班级的学风建设，在学生</tspan><tspan x="388" y="2470">中形成"比学赶帮超"的良好风气。</tspan></text>
<line class="ul" x1="382" y1="2478" x2="611" y2="2478"/>
</g>
<g id="b4-x2">
<text class="t b4"><tspan x="388" y="2518">2.着重加强对学生良好学习习惯的培养。在以</tspan><tspan x="388" y="2532">后的日常的教学中我们将采取"反复抓，抓反</tspan><tspan x="388" y="2546">复"的措施。</tspan></text>
<line class="ul" x1="382" y1="2554" x2="611" y2="2554"/>
</g>
<g id="b4-x3">
<text class="t b4"><tspan x="388" y="2595">3.继续发挥教学管理人员的指导督促作用，进</tspan><tspan x="388" y="2609">一步抓好教学常规管理工作。</tspan></text>
<line class="ul" x1="382" y1="2616" x2="611" y2="2616"/>
</g>
<g id="b4-x4">
<text class="t b4"><tspan x="388" y="2657">4.做好学困生的转化工作，继续实施开展"一</tspan><tspan x="388" y="2671">帮一"学习互助小组。</tspan></text>
<line class="ul" x1="382" y1="2679" x2="611" y2="2679"/>
</g>
<g id="b4-x5">
<text class="t b4"><tspan x="388" y="2719">5.通过集体政治学习和教师自学，彻底转变教</tspan><tspan x="388" y="2733">师的工作作风，弘扬敬业爱岗的工作精神，提</tspan><tspan x="388" y="2747">高教师的责任心。</tspan></text>
<line class="ul" x1="382" y1="2755" x2="611" y2="2755"/>
</g>
<g id="b4-y">
<text class="t b4"><tspan x="140" y="2719">在成绩中看到不足，在失误中反思我们的工作</tspan><tspan x="140" y="2733">。接下来，我们将不断努力，进一步改进教学</tspan><tspan x="140" y="2747">方法，争取在期末考试中取得更大的进步。</tspan></text>
<line class="ul" x1="133" y1="2755" x2="361" y2="2755"/>
</g>

<g id="watermarks" class="wm">
<text transform="translate(650,500) rotate(-30)" text-anchor="middle"><tspan font-family="Noto Sans CJK SC,sans-serif">树图</tspan><tspan font-family="Liberation Serif,serif" font-style="italic"> shutu.cn</tspan></text>
<text transform="translate(1932,500) rotate(-30)" text-anchor="middle"><tspan font-family="Noto Sans CJK SC,sans-serif">树图</tspan><tspan font-family="Liberation Serif,serif" font-style="italic"> shutu.cn</tspan></text>
<text transform="translate(650,1512) rotate(-30)" text-anchor="middle"><tspan font-family="Noto Sans CJK SC,sans-serif">树图</tspan><tspan font-family="Liberation Serif,serif" font-style="italic"> shutu.cn</tspan></text>
<text transform="translate(1932,1562) rotate(-30)" text-anchor="middle"><tspan font-family="Noto Sans CJK SC,sans-serif">树图</tspan><tspan font-family="Liberation Serif,serif" font-style="italic"> shutu.cn</tspan></text>
<text transform="translate(650,2462) rotate(-30)" text-anchor="middle"><tspan font-family="Noto Sans CJK SC,sans-serif">树图</tspan><tspan font-family="Liberation Serif,serif" font-style="italic"> shutu.cn</tspan></text>
<text transform="translate(1932,2487) rotate(-30)" text-anchor="middle"><tspan font-family="Noto Sans CJK SC,sans-serif">树图</tspan><tspan font-family="Liberation Serif,serif" font-style="italic"> shutu.cn</tspan></text>
<text transform="translate(650,3497) rotate(-30)" text-anchor="middle"><tspan font-family="Noto Sans CJK SC,sans-serif">树图</tspan><tspan font-family="Liberation Serif,serif" font-style="italic"> shutu.cn</tspan></text>
<text transform="translate(1932,3522) rotate(-30)" text-anchor="middle"><tspan font-family="Noto Sans CJK SC,sans-serif">树图</tspan><tspan font-family="Liberation Serif,serif" font-style="italic"> shutu.cn</tspan></text>
</g>
</svg>
